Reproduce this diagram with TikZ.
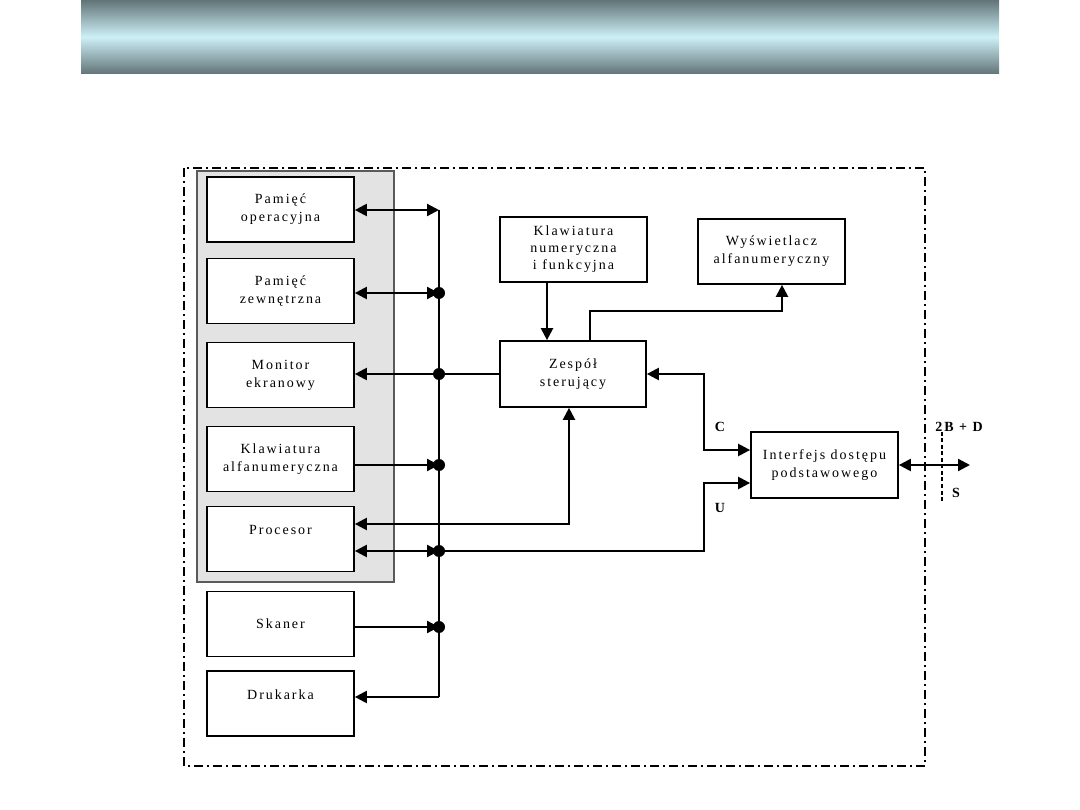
\documentclass[tikz,border=0pt]{standalone}
\usepackage{fontspec}
\setmainfont{Liberation Serif}[LetterSpace=14]
\usetikzlibrary{arrows.meta}

\definecolor{bandDark}{HTML}{627478}
\definecolor{bandLight}{HTML}{CDF0F7}
\definecolor{panelGray}{HTML}{E3E3E3}
\definecolor{panelEdge}{HTML}{5A5A5A}

\tikzset{
  blok/.style={draw, line width=1.7pt, fill=white, minimum width=147, minimum height=65,
    align=center, inner sep=0pt, font=\fontsize{14}{18}\selectfont},
  wire/.style={line width=2.2pt},
  arr/.style={wire, -{Triangle[length=12, width=12]}},
  darr/.style={wire, {Triangle[length=12, width=12]}-{Triangle[length=12, width=12]}},
  lbl/.style={font=\fontsize{14}{16}\selectfont\bfseries, inner sep=0pt}
}

\begin{document}
\begin{tikzpicture}[x=1pt, y=-1pt, line cap=butt, line join=miter]

  %% ==== pasek u gory ====
  \shade[top color=bandDark, bottom color=bandDark, middle color=bandLight] (81,0) rectangle (999,74);

  %% ==== ramki ====
  \draw[line width=1.3pt, dash pattern=on 9pt off 4pt on 2pt off 4pt] (184,168) rectangle (925,766);
  \draw[line width=1.8pt, draw=panelEdge, fill=panelGray] (197,171) rectangle (394,582);

  %% ==== bloki ====
  \node[blok] (pop)  at (280.5,209.5) {Pamięć\\operacyjna};
  \node[blok] (pzw)  at (280.5,291)   {Pamięć\\zewnętrzna};
  \node[blok] (mon)  at (280.5,375)   {Monitor\\ekranowy};
  \node[blok] (kla)  at (280.5,459)   {Klawiatura\\alfanumeryczna};
  \node[blok] (proc) at (280.5,539)   {Procesor\\~};
  \node[blok] (skan) at (280.5,624)   {Skaner};
  \node[blok] (druk) at (280.5,703.5) {Drukarka\\~};
  \node[blok, font=\fontsize{14}{17}\selectfont] (kfn) at (573.5,249.5) {Klawiatura\\numeryczna\\i funkcyjna};
  \node[blok] (wys)  at (771.5,251.5) {Wyświetlacz\\alfanumeryczny};
  \node[blok, minimum width=146, minimum height=66] (zesp) at (573,374) {Zespół\\sterujący};
  \node[blok, minimum height=66] (intf) at (824.5,465) {Interfejs dostępu\\podstawowego};

  %% ==== magistrala ====
  \coordinate (b1) at (439,210);
  \coordinate (b2) at (439,293);
  \coordinate (b3) at (439,374);
  \coordinate (b4) at (439,465);
  \coordinate (b5) at (439,551);
  \coordinate (b6) at (439,627);
  \coordinate (b7) at (439,697);
  \draw[wire] (b1) -- (b7);

  \draw[darr] (b1 -| pop.east) -- (b1);
  \draw[darr] (b2 -| pzw.east) -- (b2);
  \draw[arr] (zesp.west) -- (b3 -| mon.east);
  \draw[arr] (b4 -| kla.east) -- (b4);
  \draw[darr] (b5 -| proc.east) -- (b5);
  \draw[arr] (b6 -| skan.east) -- (b6);
  \draw[arr] (b7) -- (b7 -| druk.east);
  \foreach \p in {b2,b3,b4,b5,b6} \fill (\p) circle (6);

  %% ==== polaczenia zespolu ====
  \coordinate (pz) at (569,524);
  \draw[darr] (pz -| proc.east) -- (pz) -- (pz |- zesp.south);
  \draw[arr] ([xshift=-26.5]kfn.south) -- ([xshift=-26]zesp.north);
  \draw[arr] ([xshift=17]zesp.north) -- ++(0,-29) -| ([xshift=10.5]wys.south);

  \coordinate (cc) at (704,450);
  \coordinate (uu) at (704,483);
  \draw[darr] (zesp.east) -| (cc) -- (cc -| intf.west);
  \draw[arr] (b5) -- (b5 -| uu) -- (uu) -- (uu -| intf.west);

  %% ==== styk S ====
  \coordinate (sx) at (970,465);
  \draw[darr] (intf.east) -- (sx);
  \draw[line width=2.8pt, dash pattern=on 4pt off 2.5pt] (942,432) -- (942,503);

  %% ==== etykiety ====
  \node[lbl] (lc)  at (720,427) {C};
  \node[lbl] (lu)  at (720,508) {U};
  \node[lbl] (l2b) at (959,427) {2B + D};
  \node[lbl] (ls)  at (956,493) {S};

  \pgfresetboundingbox
  \path[use as bounding box] (0,0) rectangle (1080,810);
\end{tikzpicture}
\end{document}
